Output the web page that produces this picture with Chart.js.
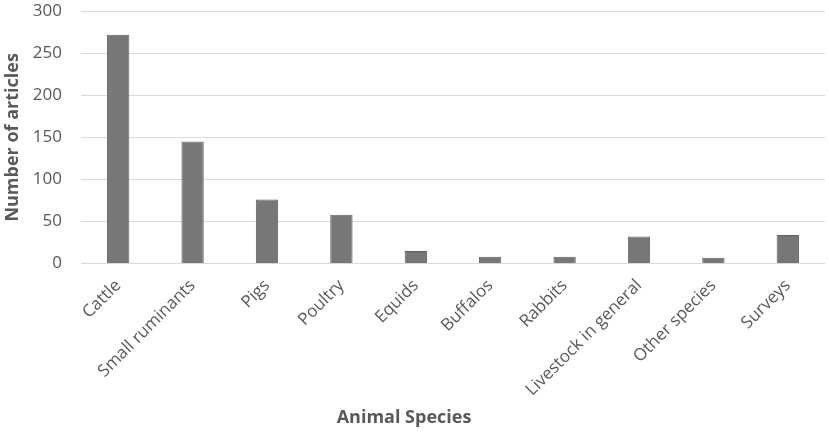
<!DOCTYPE html>
<html>
<head>
<meta charset="utf-8">
<script src="https://cdn.jsdelivr.net/npm/chart.js@4.4.1/dist/chart.umd.min.js"></script>
<style>
    html, body { margin: 0; padding: 0; background: #fff; }
    #wrap { width: 829px; height: 432px; }
</style>
</head>
<body>
<div id="wrap"><canvas id="speciesChart"></canvas></div>
<script>
    // Data
    const categories = ["Cattle", "Small ruminants", "Pigs", "Poultry", "Equids",
        "Buffalos", "Rabbits", "Livestock in general", "Other species", "Surveys"];
    const articleCounts = [272, 145, 76, 58, 15, 8, 8, 32, 7, 34];
    const yTicks = [0, 50, 100, 150, 200, 250, 300];
    const xTitle = "Animal Species";
    const yTitle = "Number of articles";

    const textColor = "#595959";
    const fontFamily = "'Open Sans', sans-serif";

    // x title sits a bit left of the plot centre, like the original
    const xTitlePlugin = {
        id: "xTitle",
        afterDraw(chart) {
            const ctx = chart.ctx;
            ctx.save();
            ctx.fillStyle = textColor;
            ctx.font = "bold 18px " + fontFamily;
            ctx.textAlign = "center";
            ctx.textBaseline = "alphabetic";
            ctx.fillText(xTitle, 404, 423);
            ctx.restore();
        }
    };

    new Chart(document.getElementById("speciesChart"), {
        type: "bar",
        data: {
            labels: categories,
            datasets: [{
                label: yTitle,
                data: articleCounts,
                backgroundColor: "#777777",
                borderColor: "#606060",
                borderWidth: 1,
                categoryPercentage: 1,
                barPercentage: 0.3
            }]
        },
        options: {
            responsive: true,
            maintainAspectRatio: false,
            animation: false,
            layout: { padding: { top: 0, right: 4, left: 0, bottom: 28 } },
            plugins: {
                legend: { display: false },
                tooltip: { enabled: false }
            },
            scales: {
                x: {
                    grid: { display: false },
                    border: { display: false },
                    ticks: {
                        color: textColor,
                        font: { family: fontFamily, size: 17 },
                        maxRotation: 45,
                        minRotation: 45,
                        padding: 4
                    }
                },
                y: {
                    min: 0,
                    max: 300,
                    afterFit: (scale) => { scale.width = 81; },
                    afterBuildTicks: (scale) => {
                        scale.ticks = yTicks.map((v) => ({ value: v }));
                    },
                    grid: {
                        color: "#d9d9d9",
                        lineWidth: 1,
                        drawTicks: true,
                        tickLength: 18,
                        tickColor: "rgba(0,0,0,0)"
                    },
                    border: { display: false },
                    ticks: {
                        color: textColor,
                        font: { family: fontFamily, size: 17 },
                        padding: 1
                    },
                    title: {
                        display: true,
                        text: yTitle,
                        color: textColor,
                        font: { family: fontFamily, size: 18, weight: "bold" },
                        padding: { top: 2, bottom: 0 }
                    }
                }
            }
        },
        plugins: [xTitlePlugin]
    });
</script>
</body>
</html>
